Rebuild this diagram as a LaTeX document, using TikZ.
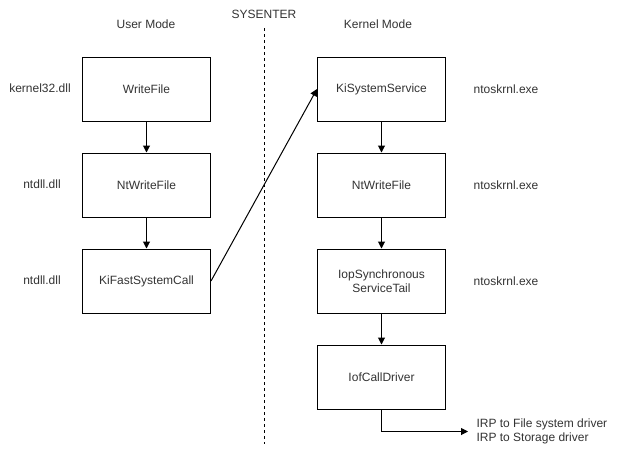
\documentclass[tikz,border=0pt]{standalone}
\usepackage{fontspec}
\setmainfont{Liberation Sans}
\usepackage{tikz}
\usetikzlibrary{arrows.meta,positioning}

\begin{document}
\begin{tikzpicture}[
        x=1pt, y=-1pt,
        line width=1pt,
        every node/.style={font=\fontsize{12}{14}\selectfont, text=black!80},
        box/.style={draw, minimum width=128pt, minimum height=64pt, inner sep=0pt, align=center},
        call/.style={-{Triangle[length=7pt,width=7pt]}},
    ]
        \useasboundingbox (0,0) rectangle (618,448);

        % --- headings ---
        \node (user)   at (146,24) {User Mode};
        \node (kernel) at (378,24) {Kernel Mode};
        \node (sysent) at (264,14) {SYSENTER};

        % --- user mode calls ---
        \node[box] (wfile)  at (146.5,89)  {WriteFile};
        \node[box] (ntuser) at (146.5,185) {NtWriteFile};
        \node[box] (kifast) at (146.5,281) {KiFastSystemCall};

        % --- kernel mode calls ---
        \node[box] (kisys)   at (381.5,89)  {KiSystemService};
        \node[box] (ntkern)  at (381.5,185) {NtWriteFile};
        \node[box] (iop)     at (381.5,281) {IopSynchronous\\ServiceTail};
        \node[box] (iofcall) at (381.5,377) {IofCallDriver};

        % --- modules ---
        \node (k32)   at (40,88)   {kernel32.dll};
        \node (ntd1)  at (42,184)  {ntdll.dll};
        \node (ntd2)  at (42,280)  {ntdll.dll};
        \node (ntos1) at (506,89)  {ntoskrnl.exe};
        \node (ntos2) at (506,185) {ntoskrnl.exe};
        \node (ntos3) at (506,281) {ntoskrnl.exe};

        % --- output ---
        \node[anchor=west, inner sep=0pt, align=left] (irp) at (476,431.5)
            {IRP to File system driver\\IRP to Storage driver};

        % --- boundary ---
        \coordinate (bndtop) at (264,28);
        \coordinate (bndbot) at (264,444);
        \draw[dash pattern=on 3pt off 3pt] (bndtop) -- (bndbot);

        % --- arrows ---
        \draw[call] (wfile) -- (ntuser);
        \draw[call] (ntuser) -- (kifast);
        \draw[call] (kifast.east) -- (kisys.west);
        \draw[call] (kisys) -- (ntkern);
        \draw[call] (ntkern) -- (iop);
        \draw[call] (iop) -- (iofcall);
        \draw[call] (iofcall.south) |- ([xshift=-8pt]irp.west);
    \end{tikzpicture}
\end{document}
